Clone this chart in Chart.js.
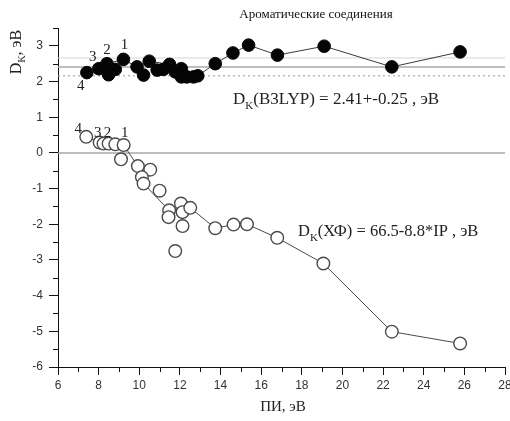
<!DOCTYPE html>
<html><head><meta charset="utf-8">
<script src="https://cdn.jsdelivr.net/npm/chart.js@4/dist/chart.umd.min.js"></script>
<style>html,body{margin:0;padding:0;background:#fff}</style>
</head><body>
<canvas id="c" width="510" height="421" style="width:510px;height:421px;display:block"></canvas>
<script>
// ---- data ----
const titleText = 'Ароматические соединения';
const xTitle = 'ПИ, эВ';
const xTicks = [6, 8, 10, 12, 14, 16, 18, 20, 22, 24, 26, 28];
const yTicks = [-6, -5, -4, -3, -2, -1, 0, 1, 2, 3];

// B3LYP (filled circles)
const dftX = [7.42, 8.01, 8.41, 8.49, 8.82, 9.22, 9.89, 10.21, 10.49, 10.88, 11.19, 11.49, 11.77, 12.07, 12.07, 12.34, 12.67, 12.88, 13.74, 14.61, 15.38, 16.80, 19.10, 22.43, 25.79];
const dftY = [2.25, 2.36, 2.50, 2.19, 2.34, 2.62, 2.41, 2.18, 2.57, 2.32, 2.34, 2.48, 2.27, 2.36, 2.13, 2.13, 2.13, 2.16, 2.50, 2.80, 3.02, 2.74, 2.99, 2.41, 2.83];
const dftLabels = ['4', '3', '2', '', '', '1', '', '', '', '', '', '', '', '', '', '', '', '', '', '', '', '', '', '', ''];
// connected B3LYP points
const dftLineX = [7.42, 8.01, 8.41, 9.22, 9.89, 10.49, 11.49, 12.07, 12.88, 13.74, 14.61, 15.38, 16.80, 19.10, 22.43, 25.79];
const dftLineY = [2.25, 2.36, 2.50, 2.62, 2.41, 2.57, 2.48, 2.36, 2.16, 2.50, 2.80, 3.02, 2.74, 2.99, 2.41, 2.83];

// HF (open circles)
const hfX = [7.39, 8.05, 8.24, 8.49, 8.82, 9.23, 9.10, 9.93, 10.54, 10.13, 10.21, 11.00, 11.47, 11.44, 12.05, 12.13, 12.51, 12.13, 11.77, 13.74, 14.64, 15.30, 16.79, 19.06, 22.43, 25.79];
const hfY = [0.45, 0.29, 0.26, 0.26, 0.24, 0.22, -0.18, -0.37, -0.47, -0.68, -0.86, -1.06, -1.61, -1.80, -1.42, -1.66, -1.54, -2.05, -2.75, -2.11, -2.01, -2.00, -2.38, -3.10, -5.01, -5.34];
const hfLabels = ['4', '3', '', '2', '', '1', '', '', '', '', '', '', '', '', '', '', '', '', '', '', '', '', '', '', '', ''];
const hfLineX = [7.39, 8.05, 8.49, 9.23, 9.93, 10.21, 11.47, 12.51, 13.74, 14.64, 15.30, 16.79, 19.06, 22.43, 25.79];
const hfLineY = [0.45, 0.29, 0.26, 0.22, -0.37, -0.86, -1.61, -1.54, -2.11, -2.01, -2.00, -2.38, -3.10, -5.01, -5.34];

// reference lines (zero, mean, +sd, -sd)
const refLevels = [0, 2.41, 2.66, 2.16];

const dftText = ['D', 'K', '(B3LYP) = 2.41+-0.25 , эВ'];
const hfText = ['D', 'K', '(ХФ) = 66.5-8.8*IP , эВ'];
const yTitle = ['D', 'K', ', эВ'];

// ---- build ----
const pts = (xs, ys) => xs.map((x, i) => ({x: x, y: ys[i]}));
const refStyles = [
  {color: '#a8a8a8', width: 1.5, dash: []},
  {color: '#a8a8a8', width: 1.5, dash: []},
  {color: '#d4d4d4', width: 1, dash: []},
  {color: '#9a9a9a', width: 1, dash: [2, 3]}
];
const refDatasets = refLevels.map((v, i) => ({
  data: [{x: 6, y: v}, {x: 28, y: v}],
  showLine: true, pointRadius: 0, borderColor: refStyles[i].color,
  borderWidth: refStyles[i].width, borderDash: refStyles[i].dash
}));

const SERIF = '"Liberation Serif", "Times New Roman", serif';

function drawSub(ctx, parts, x, y, size, align) {
  const sub = Math.round(size * 0.65);
  ctx.font = size + 'px ' + SERIF;
  const w0 = ctx.measureText(parts[0]).width;
  ctx.font = sub + 'px ' + SERIF;
  const w1 = ctx.measureText(parts[1]).width;
  ctx.font = size + 'px ' + SERIF;
  const w2 = ctx.measureText(parts[2]).width;
  let sx = x;
  if (align === 'center') sx = x - (w0 + w1 + w2) / 2;
  ctx.textAlign = 'left';
  ctx.textBaseline = 'alphabetic';
  ctx.fillText(parts[0], sx, y);
  ctx.font = sub + 'px ' + SERIF;
  ctx.fillText(parts[1], sx + w0, y + size * 0.28);
  ctx.font = size + 'px ' + SERIF;
  ctx.fillText(parts[2], sx + w0 + w1, y);
}

const decor = {
  id: 'decor',
  afterDraw(chart) {
    const ctx = chart.ctx, xs = chart.scales.x, ys = chart.scales.y;
    ctx.save();
    // minor ticks
    ctx.strokeStyle = '#111'; ctx.lineWidth = 1;
    ctx.beginPath();
    for (let v = 7; v < 28; v += 2) {
      const px = Math.round(xs.getPixelForValue(v)) + 0.5;
      ctx.moveTo(px, ys.bottom); ctx.lineTo(px, ys.bottom + 5);
    }
    for (let v = -5.5; v <= 3.5; v += 1) {
      const py = Math.round(ys.getPixelForValue(v)) + 0.5;
      ctx.moveTo(xs.left, py); ctx.lineTo(xs.left - 5, py);
    }
    ctx.stroke();

    ctx.fillStyle = '#222';
    // point labels
    ctx.font = '15px ' + SERIF;
    ctx.textAlign = 'center'; ctx.textBaseline = 'alphabetic';
    const m0 = chart.getDatasetMeta(0), m1 = chart.getDatasetMeta(1);
    const offD = {'4': [-6, 17], '3': [-6, -8], '2': [0, -10], '1': [1, -10]};
    dftLabels.forEach((t, i) => {
      if (!t) return;
      const p = m0.data[i];
      ctx.fillText(t, p.x + offD[t][0], p.y + offD[t][1]);
    });
    const offH = {'4': [-8, -4], '3': [-2, -6], '2': [-1, -7], '1': [1, -8]};
    hfLabels.forEach((t, i) => {
      if (!t) return;
      const p = m1.data[i];
      ctx.fillText(t, p.x + offH[t][0], p.y + offH[t][1]);
    });

    // title
    ctx.fillStyle = '#111';
    ctx.font = '13px ' + SERIF;
    ctx.textAlign = 'center'; ctx.textBaseline = 'middle';
    ctx.fillText(titleText, 316, 15);
    // x title
    ctx.fillStyle = '#222';
    ctx.font = '15px ' + SERIF;
    ctx.fillText(xTitle, 283, 407);

    // annotations
    drawSub(ctx, dftText, 233, 104, 17, 'left');
    drawSub(ctx, hfText, 298, 236, 16.5, 'left');

    // y title
    ctx.translate(21, 52);
    ctx.rotate(-Math.PI / 2);
    drawSub(ctx, yTitle, 0, 0, 16, 'center');
    ctx.restore();
  }
};

new Chart(document.getElementById('c'), {
  type: 'scatter',
  data: {
    datasets: [
      {data: pts(dftX, dftY), pointRadius: 6.3, pointBackgroundColor: '#050505', pointBorderColor: '#050505', pointBorderWidth: 1, showLine: false},
      {data: pts(hfX, hfY), pointRadius: 6.3, pointBackgroundColor: '#ffffff', pointBorderColor: '#4a4a4a', pointBorderWidth: 1.4, showLine: false},
      {data: pts(dftLineX, dftLineY), showLine: true, pointRadius: 0, borderColor: '#3a3a3a', borderWidth: 1},
      {data: pts(hfLineX, hfLineY), showLine: true, pointRadius: 0, borderColor: '#4a4a4a', borderWidth: 1}
    ].concat(refDatasets)
  },
  options: {
    responsive: false,
    devicePixelRatio: 1,
    animation: false,
    events: [],
    layout: {autoPadding: false, padding: {top: 28, right: 5, left: 0, bottom: 0}},
    plugins: {legend: {display: false}, tooltip: {enabled: false}, title: {display: false}},
    scales: {
      x: {
        type: 'linear', min: 6, max: 28,
        afterBuildTicks: s => { s.ticks = xTicks.map(v => ({value: v})); },
        afterFit: s => { s.height = 54; s.paddingLeft = 0; s.paddingRight = 0; },
        grid: {drawOnChartArea: false, drawTicks: true, tickLength: 8, color: '#111'},
        border: {display: true, color: '#111', width: 1},
        ticks: {color: '#333', padding: 3, font: {family: '"Liberation Sans", Arial, sans-serif', size: 12}, maxRotation: 0}
      },
      y: {
        type: 'linear', min: -6, max: 3.5,
        afterBuildTicks: s => { s.ticks = yTicks.map(v => ({value: v})); },
        afterFit: s => { s.width = 58; s.paddingTop = 0; s.paddingBottom = 0; },
        grid: {drawOnChartArea: false, drawTicks: true, tickLength: 9, color: '#111'},
        border: {display: true, color: '#111', width: 1},
        ticks: {color: '#333', padding: 6, font: {family: '"Liberation Sans", Arial, sans-serif', size: 12}}
      }
    }
  },
  plugins: [decor]
});
</script>
</body></html>
